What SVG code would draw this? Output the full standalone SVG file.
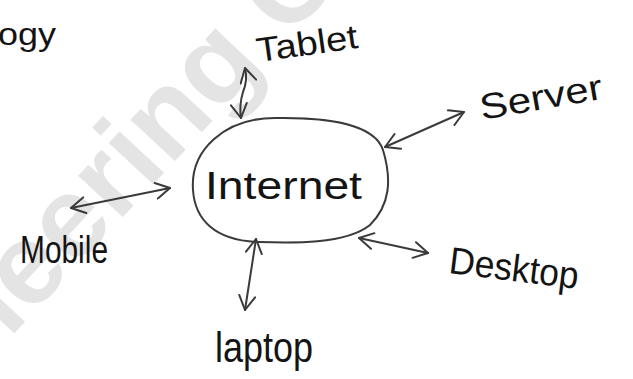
<svg xmlns="http://www.w3.org/2000/svg" width="633" height="379" viewBox="0 0 633 379">
<style>
.hw{font-family:"Liberation Sans","DejaVu Sans",sans-serif;fill:#141414;}
.ln{fill:none;stroke:#3a3a3a;stroke-width:2;stroke-linecap:round;stroke-linejoin:round;}
.wm{font-family:"Liberation Sans",sans-serif;font-weight:bold;fill:#e4e4e4;}
</style>
<defs>
<marker id="ah" viewBox="-16 -9 18 18" markerWidth="18" markerHeight="18" refX="0" refY="0" orient="auto-start-reverse" markerUnits="userSpaceOnUse">
<path d="M-14,-8 L0,0 L-14,8" fill="none" stroke="#3a3a3a" stroke-width="2" stroke-linecap="round" stroke-linejoin="round"/>
</marker>
</defs>
<rect width="633" height="379" fill="#ffffff"/>
<text class="wm" font-size="115" transform="translate(-18,368) rotate(-47)">neering C</text>
<text class="hw" x="-2" y="45" font-size="32" textLength="58" lengthAdjust="spacingAndGlyphs">ogy</text>
<g id="connectors">
<path class="ln" d="M245,68 Q248,80 243,92 Q239,105 241,118" marker-start="url(#ah)" marker-end="url(#ah)"/>
<path class="ln" d="M385,147 L464,112" marker-start="url(#ah)" marker-end="url(#ah)"/>
<path class="ln" d="M71,208 L170,188" marker-start="url(#ah)" marker-end="url(#ah)"/>
<path class="ln" d="M359,238 L428,253" marker-start="url(#ah)" marker-end="url(#ah)"/>
<path class="ln" d="M256,239 L245,310" marker-start="url(#ah)" marker-end="url(#ah)"/>
</g>
<g id="internet">
<path class="ln" d="M193,190 C190,150 225,118 275,118 C330,117 375,125 383,150 C392,180 390,205 370,225 C345,245 290,243 257,242 C215,240 195,220 193,190 Z"/>
<text class="hw" x="205" y="199" font-size="38" textLength="157" lengthAdjust="spacingAndGlyphs">Internet</text>
</g>
<g id="tablet">
<text class="hw" x="258" y="62" font-size="34" textLength="102" lengthAdjust="spacingAndGlyphs" transform="rotate(-8 258 62)">Tablet</text>
</g>
<g id="server">
<text class="hw" x="482" y="120" font-size="36" textLength="124" lengthAdjust="spacingAndGlyphs" transform="rotate(-10 482 120)">Server</text>
</g>
<g id="mobile">
<text class="hw" x="20" y="263" font-size="38" textLength="88" lengthAdjust="spacingAndGlyphs">Mobile</text>
</g>
<g id="desktop">
<text class="hw" x="448" y="273" font-size="38" textLength="130" lengthAdjust="spacingAndGlyphs" transform="rotate(7 448 273)">Desktop</text>
</g>
<g id="laptop">
<text class="hw" x="215" y="362" font-size="42" textLength="98" lengthAdjust="spacingAndGlyphs">laptop</text>
</g>
</svg>
